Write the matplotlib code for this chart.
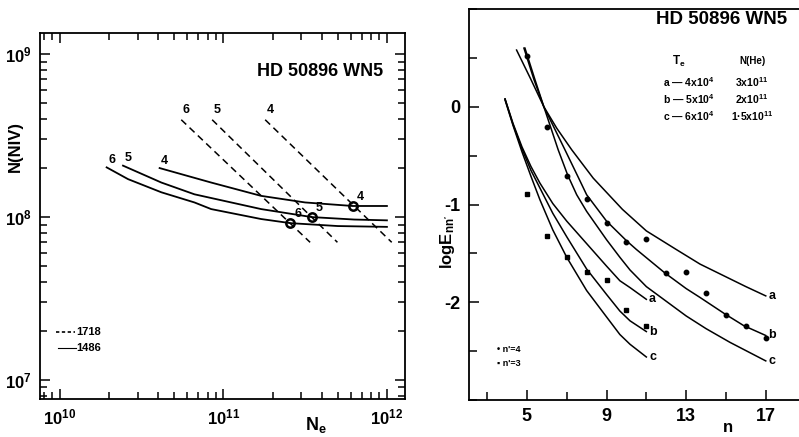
import matplotlib
matplotlib.use("Agg")
import matplotlib.pyplot as plt
from matplotlib.ticker import FixedLocator, LogLocator, NullFormatter, MultipleLocator

plt.rcParams['font.family'] = ['Liberation Sans', 'DejaVu Sans']
plt.rcParams['font.weight'] = 'bold'
plt.rcParams['mathtext.fontset'] = 'custom'
plt.rcParams['mathtext.rm'] = 'Liberation Sans:bold'
plt.rcParams['mathtext.it'] = 'Liberation Sans:bold'
plt.rcParams['mathtext.bf'] = 'Liberation Sans:bold'

# ---------------- Left panel data: N(NIV) vs Ne ----------------
# solid curves (1486), labelled 6, 5, 4
sol6_ne = [1.93e10, 2.61e10, 4.17e10, 6.65e10, 8.41e10, 1.70e11, 2.57e11, 5.01e11, 1.0e12]
sol6_n = [2.02e8, 1.71e8, 1.42e8, 1.23e8, 1.12e8, 0.973e8, 0.918e8, 0.881e8, 0.871e8]
sol5_ne = [2.43e10, 4.17e10, 6.65e10, 1.70e11, 3.47e11, 6.31e11, 1.0e12]
sol5_n = [2.07e8, 1.63e8, 1.38e8, 1.12e8, 1.00e8, 0.966e8, 0.955e8]
sol4_ne = [4.07e10, 6.03e10, 8.41e10, 1.70e11, 3.16e11, 6.17e11, 1.0e12]
sol4_n = [2.00e8, 1.79e8, 1.63e8, 1.35e8, 1.23e8, 1.17e8, 1.17e8]
# dashed lines (1718), labelled 6, 5, 4
dash6_ne = [5.52e10, 3.39e11]
dash5_ne = [8.53e10, 4.98e11]
dash4_ne = [1.80e11, 1.07e12]
dash_n = [3.96e8, 7.0e7]
# intersection circles
circ_ne = [2.57e11, 3.47e11, 6.17e11]
circ_n = [0.918e8, 1.00e8, 1.17e8]
circ_lab = ['6', '5', '4']

# ---------------- Right panel data: log E_nn' vs n ----------------
up_a_n = [4.48, 5.2, 5.85, 6.5, 7.25, 8.33, 9.8, 11.0, 12.5, 13.7, 14.7, 16.0, 17.0]
up_a_e = [0.58, 0.28, 0.0, -0.22, -0.44, -0.73, -1.05, -1.27, -1.46, -1.61, -1.71, -1.84, -1.935]
up_b_n = [4.85, 5.35, 5.85, 6.91, 7.6, 8.0, 9.0, 10.0, 10.5, 11.93, 13.0, 13.69, 14.95, 15.9, 17.0]
up_b_e = [0.60, 0.28, 0.0, -0.44, -0.73, -0.90, -1.17, -1.37, -1.46, -1.70, -1.86, -1.95, -2.12, -2.24, -2.34]
up_c_n = [4.9, 5.4, 5.85, 6.57, 7.05, 7.5, 8.0, 9.0, 9.67, 10.18, 11.0, 12.0, 13.0, 14.0, 15.2, 17.0]
up_c_e = [0.60, 0.28, 0.0, -0.44, -0.70, -0.90, -1.07, -1.36, -1.54, -1.67, -1.84, -1.99, -2.14, -2.27, -2.41, -2.60]
lo_n = [3.9, 4.3, 4.75, 5.2, 5.65, 6.3, 7.0, 8.0, 9.0, 9.67, 10.18, 11.0]
lo_a_e = [0.08, -0.17, -0.41, -0.61, -0.78, -0.99, -1.17, -1.40, -1.63, -1.78, -1.85, -1.97]
lo_b_e = [0.08, -0.18, -0.43, -0.65, -0.83, -1.09, -1.33, -1.66, -1.92, -2.09, -2.19, -2.30]
lo_c_e = [0.07, -0.19, -0.46, -0.71, -0.95, -1.26, -1.54, -1.88, -2.15, -2.33, -2.43, -2.56]
pts4_n = [5, 6, 7, 8, 9, 10, 11, 12, 13, 14, 15, 16, 17]
pts4_e = [0.52, -0.21, -0.71, -0.94, -1.19, -1.38, -1.35, -1.70, -1.69, -1.91, -2.13, -2.24, -2.37]
pts3_n = [5, 6, 7, 8, 9, 10, 11]
pts3_e = [-0.89, -1.32, -1.54, -1.69, -1.77, -2.08, -2.24]

W, H = 799, 437
fig = plt.figure(figsize=(W / 100, H / 100), dpi=100)

def fx(px):
    return px / W

def fy(py):
    return 1 - py / H

# ================= LEFT PANEL =================
ax1 = fig.add_axes([fx(40), fy(399), fx(405) - fx(40), fy(33) - fy(399)])
ax1.set_xscale('log')
ax1.set_yscale('log')
ax1.set_xlim(7.55e9, 1.29e12)
ax1.set_ylim(7.64e6, 1.35e9)
lw = 1.3
for xs, ys in [(sol6_ne, sol6_n), (sol5_ne, sol5_n), (sol4_ne, sol4_n)]:
    ax1.plot(xs, ys, color='black', lw=lw)
for xs, lab in [(dash6_ne, '6'), (dash5_ne, '5'), (dash4_ne, '4')]:
    ax1.plot(xs, dash_n, color='black', lw=1.1, dashes=(4.5, 3))
    ax1.annotate(lab, xy=(xs[0], dash_n[0]), xytext=(1, 3), textcoords='offset points',
                 fontsize=9, fontweight='bold', ha='left', va='bottom')
for xs, ys, lab in [(sol6_ne, sol6_n, '6'), (sol5_ne, sol5_n, '5'), (sol4_ne, sol4_n, '4')]:
    ax1.annotate(lab, xy=(xs[0], ys[0]), xytext=(1, 1), textcoords='offset points',
                 fontsize=9, fontweight='bold', ha='left', va='bottom')
ax1.plot(circ_ne, circ_n, 'o', ms=6, mfc='none', mec='black', mew=1.8)
for x, y, lab in zip(circ_ne, circ_n, circ_lab):
    ax1.annotate(lab, xy=(x, y), xytext=(3, 2), textcoords='offset points',
                 fontsize=9, fontweight='bold', ha='left', va='bottom')

ax1.xaxis.set_major_locator(FixedLocator([1e10, 1e11, 1e12]))
ax1.yaxis.set_major_locator(FixedLocator([1e7, 1e8, 1e9]))
ax1.xaxis.set_minor_locator(LogLocator(base=10, subs=range(2, 10)))
ax1.yaxis.set_minor_locator(LogLocator(base=10, subs=range(2, 10)))
ax1.xaxis.set_minor_formatter(NullFormatter())
ax1.yaxis.set_minor_formatter(NullFormatter())
ax1.set_xticklabels([r'$10^{10}$', r'$10^{11}$', r'$10^{12}$'])
ax1.set_yticklabels([r'$10^{7}$', r'$10^{8}$', r'$10^{9}$'])
ax1.tick_params(which='both', direction='in', top=True, right=True, labelsize=12, width=1.1)
ax1.tick_params(which='major', length=7, pad=6)
ax1.tick_params(which='minor', length=5)
for s in ax1.spines.values():
    s.set_linewidth(1.3)

ax1.text(0.94, 0.895, 'HD 50896 WN5', transform=ax1.transAxes, fontsize=13,
         fontweight='bold', ha='right', va='center')
fig.text(fx(15), fy(147), 'N(NIV)', rotation=90, fontsize=12, fontweight='bold',
         ha='center', va='center')
fig.text(fx(316), fy(425), r'$\mathregular{N_e}$', fontsize=13, fontweight='bold',
         ha='center', va='center')
# left legend
ax1.plot([0.045, 0.095], [0.184, 0.184], transform=ax1.transAxes, color='black',
         lw=1.2, dashes=(2, 1.5))
ax1.text(0.10, 0.184, '1718', transform=ax1.transAxes, fontsize=8, fontweight='bold',
         ha='left', va='center')
ax1.plot([0.048, 0.098], [0.140, 0.140], transform=ax1.transAxes, color='black', lw=0.8)
ax1.text(0.10, 0.140, '1486', transform=ax1.transAxes, fontsize=8, fontweight='bold',
         ha='left', va='center')

# ================= RIGHT PANEL =================
ax2 = fig.add_axes([fx(469), fy(400), 1.0 - fx(469), fy(9) - fy(400)])
ax2.set_xlim(2.09, 18.67)
ax2.set_ylim(-3.0, 1.0)
for ns, es in [(up_a_n, up_a_e), (up_b_n, up_b_e), (up_c_n, up_c_e),
               (lo_n, lo_a_e), (lo_n, lo_b_e), (lo_n, lo_c_e)]:
    ax2.plot(ns, es, color='black', lw=1.1)
ax2.plot(pts4_n, pts4_e, 'o', ms=3.2, color='black')
ax2.plot(pts3_n, pts3_e, 's', ms=2.2, color='black')
for ns, es, lab in [(up_a_n, up_a_e, 'a'), (up_b_n, up_b_e, 'b'), (up_c_n, up_c_e, 'c'),
                    (lo_n, lo_a_e, 'a'), (lo_n, lo_b_e, 'b'), (lo_n, lo_c_e, 'c')]:
    ax2.annotate(lab, xy=(ns[-1], es[-1]), xytext=(2, 0), textcoords='offset points',
                 fontsize=9, fontweight='bold', ha='left', va='center')

ax2.xaxis.set_major_locator(FixedLocator([5, 9, 13, 17]))
ax2.xaxis.set_minor_locator(FixedLocator([3, 7, 11, 15]))
ax2.yaxis.set_major_locator(FixedLocator([-2, -1, 0]))
ax2.yaxis.set_minor_locator(MultipleLocator(0.5))
ax2.set_yticklabels(['-2', '-1', '0'])
ax2.tick_params(which='both', direction='in', top=False, right=False, labelsize=13, width=1.1)
ax2.tick_params(which='major', length=7, pad=6)
ax2.tick_params(which='minor', length=6)
ax2.spines['right'].set_visible(False)
for s in ax2.spines.values():
    s.set_linewidth(1.3)

fig.text(fx(447), fy(242), r"$\mathregular{log E_{nn'}}$", rotation=90, fontsize=12,
         fontweight='bold', ha='center', va='center')
fig.text(fx(728), fy(427), 'n', fontsize=12, fontweight='bold', ha='center', va='center')
fig.text(fx(722), fy(20), 'HD 50896 WN5', fontsize=13.5, fontweight='bold',
         ha='center', va='center')
# parameter table
tbl_fs = 7.5
fig.text(fx(679), fy(61), r'$\mathregular{T_e}$', fontsize=tbl_fs + 1, ha='center', va='center')
fig.text(fx(752), fy(61), 'N(He)', fontsize=tbl_fs - 0.5, ha='center', va='center')
rows_lab = ['a', 'b', 'c']
rows_te = ['4x10$^{4}$', '5x10$^{4}$', '6x10$^{4}$']
rows_nhe = ['3x10$^{11}$', '2x10$^{11}$', '1\u00b75x10$^{11}$']
rows_y = [82, 99, 116]
for lab, te, nhe, yy in zip(rows_lab, rows_te, rows_nhe, rows_y):
    fig.text(fx(663), fy(yy), lab + ' \u2014 ' + te, fontsize=tbl_fs, ha='left', va='center')
    fig.text(fx(752), fy(yy), nhe, fontsize=tbl_fs, ha='center', va='center')
# right legend
fig.text(fx(497), fy(350), "\u2022 n'=4", fontsize=6.5, ha='left', va='center')
fig.text(fx(497), fy(363), "\u25aa n'=3", fontsize=6.5, ha='left', va='center')

fig.savefig('out.png', dpi=100)
